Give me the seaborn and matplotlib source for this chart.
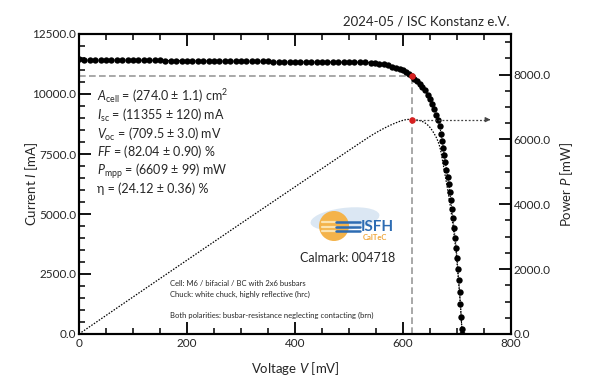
import matplotlib
matplotlib.use("Agg")
import matplotlib.pyplot as plt
import seaborn as sns
import pandas as pd
from matplotlib.ticker import MultipleLocator, FormatStrFormatter
from matplotlib.patches import Ellipse

# ---------------- data ----------------
voltage_mv = [0, 10, 20, 30, 40, 50, 60, 70, 80, 90, 100, 110, 120, 130, 140, 150,
              160, 170, 180, 190, 200, 210, 220, 230, 240, 250, 260, 270, 280, 290,
              300, 310, 320, 330, 340, 350, 360, 370, 380, 390, 400, 410, 420, 430,
              440, 450, 460, 470, 480, 490, 500, 510, 520, 530, 540,
              548, 556, 564, 572, 580, 587, 594, 600, 606, 611, 616, 621, 626, 631,
              636, 641, 646, 650, 654, 658, 662, 665, 668, 670.5, 672.5, 674.5,
              676.5, 678.5, 680.5, 682.5, 684.5, 686.5, 688.5, 690.5, 692.5, 694.5,
              696.5, 698.5, 700, 701.5, 703, 704.8, 706.3, 707.8, 709, 709.5]
current_ma = [11440, 11432, 11428, 11425, 11422, 11420, 11418, 11415, 11413, 11410,
              11408, 11405, 11403, 11400, 11398, 11396, 11394, 11392, 11390, 11388,
              11386, 11384, 11382, 11380, 11378, 11376, 11374, 11372, 11370, 11368,
              11366, 11364, 11362, 11360, 11358, 11356, 11354, 11352, 11350, 11348,
              11346, 11344, 11342, 11340, 11338, 11336, 11334, 11332, 11330, 11328,
              11326, 11323, 11320, 11315, 11308,
              11290, 11265, 11232, 11192, 11145, 11095, 11040, 10980, 10910, 10830,
              10730, 10630, 10540, 10430, 10300, 10150, 9970, 9800, 9600, 9380,
              9140, 8920, 8650, 8350, 8050, 7750, 7450, 7150, 6850, 6550, 6250,
              5930, 5580, 5220, 4830, 4420, 4010, 3600, 3160, 2710, 2260, 1760,
              1250, 700, 200, 0]

v_mpp = 616.0
i_mpp = 10730.0
p_mpp = 6609.0
arrow_end_v = 762.0

x_ticks = [0, 200, 400, 600, 800]
y_left_ticks = [0, 2500, 5000, 7500, 10000, 12500]
y_right_ticks = [0, 2000, 4000, 6000, 8000]

param_lines = [
    r"$\mathit{A}_{\mathrm{cell}}$ = (274.0 ± 1.1) cm$^{2}$",
    r"$\mathit{I}_{\mathrm{sc}}$ = (11355 ± 120) mA",
    r"$\mathit{V}_{\mathrm{oc}}$ = (709.5 ± 3.0) mV",
    r"$\mathit{FF}$ = (82.04 ± 0.90) %",
    r"$\mathit{P}_{\mathrm{mpp}}$ = (6609 ± 99) mW",
    "η = (24.12 ± 0.36) %",
]
note_lines = [
    "Cell: M6 / bifacial / BC with 2x6 busbars",
    "Chuck: white chuck, highly reflective (hrc)",
    "Both polarities: busbar-resistance neglecting contacting (brn)",
]
header = "2024-05 / ISC Konstanz e.V."
calmark = "Calmark: 004718"

df = pd.DataFrame({"V": voltage_mv, "I": current_ma})
df["P"] = df["V"] * df["I"] / 1000.0

# ---------------- style ----------------
sns.set_theme(style="white")
plt.rcParams["font.family"] = ["Lato", "DejaVu Sans"]
plt.rcParams["mathtext.fontset"] = "custom"
plt.rcParams["mathtext.rm"] = "Lato"
plt.rcParams["mathtext.it"] = "Lato:italic"
plt.rcParams["mathtext.bf"] = "Lato:bold"
TXT = "#262626"

W, H = 600, 387
def fp(x, y):
    return x / W, 1 - y / H

fig = plt.figure(figsize=(6, 3.87), dpi=100)
ax = fig.add_axes([79 / W, 1 - 334 / H, (511 - 79) / W, (334 - 34) / H])
ax2 = ax.twinx()

# power curve (right axis)
sns.lineplot(data=df, x="V", y="P", ax=ax2, color="black", lw=0.9,
             linestyle=(0, (1.2, 1.2)), sort=False, zorder=2)
ax2.plot([v_mpp, arrow_end_v - 8], [p_mpp, p_mpp], color="#444444", lw=0.9,
         linestyle=(0, (1.5, 1.5)), zorder=2)
ax2.annotate("", xy=(arrow_end_v, p_mpp), xytext=(arrow_end_v - 8, p_mpp),
             arrowprops=dict(arrowstyle="-|>", color="#444444", lw=0.9,
                             mutation_scale=7))
ax2.scatter([v_mpp], [p_mpp], s=22, color="#d62020", zorder=5, linewidths=0)

# MPP guide lines (left axis)
ax.plot([0, v_mpp], [i_mpp, i_mpp], color="#999999", lw=1.2,
        linestyle=(0, (4, 2)), zorder=1)
ax.plot([v_mpp, v_mpp], [0, i_mpp], color="#999999", lw=1.2,
        linestyle=(0, (4, 2)), zorder=1)

# I-V curve
sns.lineplot(data=df, x="V", y="I", ax=ax, color="black", lw=0.8,
             linestyle=(0, (1, 1)), sort=False, zorder=3)
sns.scatterplot(data=df, x="V", y="I", ax=ax, color="black", s=21,
                linewidth=0, zorder=4)
ax.scatter([v_mpp], [i_mpp], s=22, color="#d62020", zorder=6, linewidths=0)

# axes limits / ticks
ax.set_xlim(0, 800)
ax.set_ylim(0, 12500)
ax2.set_ylim(0, 9250)
ax.set_xticks(x_ticks)
ax.set_yticks(y_left_ticks)
ax2.set_yticks(y_right_ticks)
ax.xaxis.set_minor_locator(MultipleLocator(50))
ax.yaxis.set_minor_locator(MultipleLocator(500))
ax2.yaxis.set_minor_locator(MultipleLocator(500))
ax.yaxis.set_major_formatter(FormatStrFormatter("%.1f"))
ax2.yaxis.set_major_formatter(FormatStrFormatter("%.1f"))
ax.xaxis.set_major_formatter(FormatStrFormatter("%d"))

for a in (ax, ax2):
    for s in a.spines.values():
        s.set_linewidth(1.5)
        s.set_color("black")
    a.set_xlabel("")
    a.set_ylabel("")
ax.tick_params(axis="x", which="both", direction="in", top=True, bottom=True,
               colors="black", labelcolor=TXT, labelsize=8.5, pad=3)
ax.tick_params(axis="y", which="both", direction="in", left=True, right=False,
               colors="black", labelcolor=TXT, labelsize=8.5, pad=2)
ax2.tick_params(axis="y", which="both", direction="in", right=True, left=False,
                colors="black", labelcolor=TXT, labelsize=8.5, pad=2)
for a in (ax, ax2):
    a.tick_params(which="major", length=8.5, width=1.3)
    a.tick_params(which="minor", length=4.5, width=1.1)

ax.set_xlabel(r"Voltage $\mathit{V}$ [mV]", fontsize=9.5, color=TXT)
ax.set_ylabel(r"Current $\mathit{I}$ [mA]", fontsize=9.5, color=TXT)
ax2.set_ylabel(r"Power $\mathit{P}$ [mW]", fontsize=9.5, color=TXT)
ax.xaxis.set_label_coords(0.5, (334 - 360) / 300)
ax.yaxis.set_label_coords((40 - 79) / 432, 0.5)
ax2.yaxis.set_label_coords((558 - 79) / 432, 0.5)

# texts
fig.text(*fp(510, 21), header, ha="right", va="center", fontsize=9.5, color=TXT)
ys = [96, 115, 134, 152, 171, 189]
for line, y in zip(param_lines, ys):
    fig.text(*fp(97, y), line, ha="left", va="center", fontsize=9, color=TXT)
for line, y in zip(note_lines, [283, 294, 315]):
    fig.text(*fp(170, y), line, ha="left", va="center", fontsize=5.5, color=TXT)
fig.text(*fp(300, 258), calmark, ha="left", va="center", fontsize=9, color=TXT)

# logo
fig.patches.append(Ellipse(fp(345, 219), 70 / W, 22 / H, angle=12,
                           transform=fig.transFigure, facecolor="#dbe7f3",
                           edgecolor="none", zorder=3))
fig.patches.append(Ellipse(fp(334, 226), 30 / W, 30 / H,
                           transform=fig.transFigure, facecolor="#f4b34a",
                           edgecolor="none", zorder=4))
for yy in (222, 226.5, 231):
    fig.lines.append(plt.Line2D([322 / W, 336 / W], [1 - yy / H] * 2,
                                transform=fig.transFigure, color="#fbe3b0",
                                lw=1.6, zorder=5))
    fig.lines.append(plt.Line2D([336 / W, 360 / W], [1 - yy / H] * 2,
                                transform=fig.transFigure, color="#2d6cb3",
                                lw=1.8, zorder=5))
fig.text(*fp(361, 227), "ISFH", ha="left", va="center", fontsize=11,
         fontweight="bold", color="#2d6cb3", zorder=6)
fig.text(*fp(363, 238), "CalTeC", ha="left", va="center", fontsize=5.5,
         fontweight="bold", color="#f0a63a", zorder=6)

fig.savefig("out.png", dpi=100)
